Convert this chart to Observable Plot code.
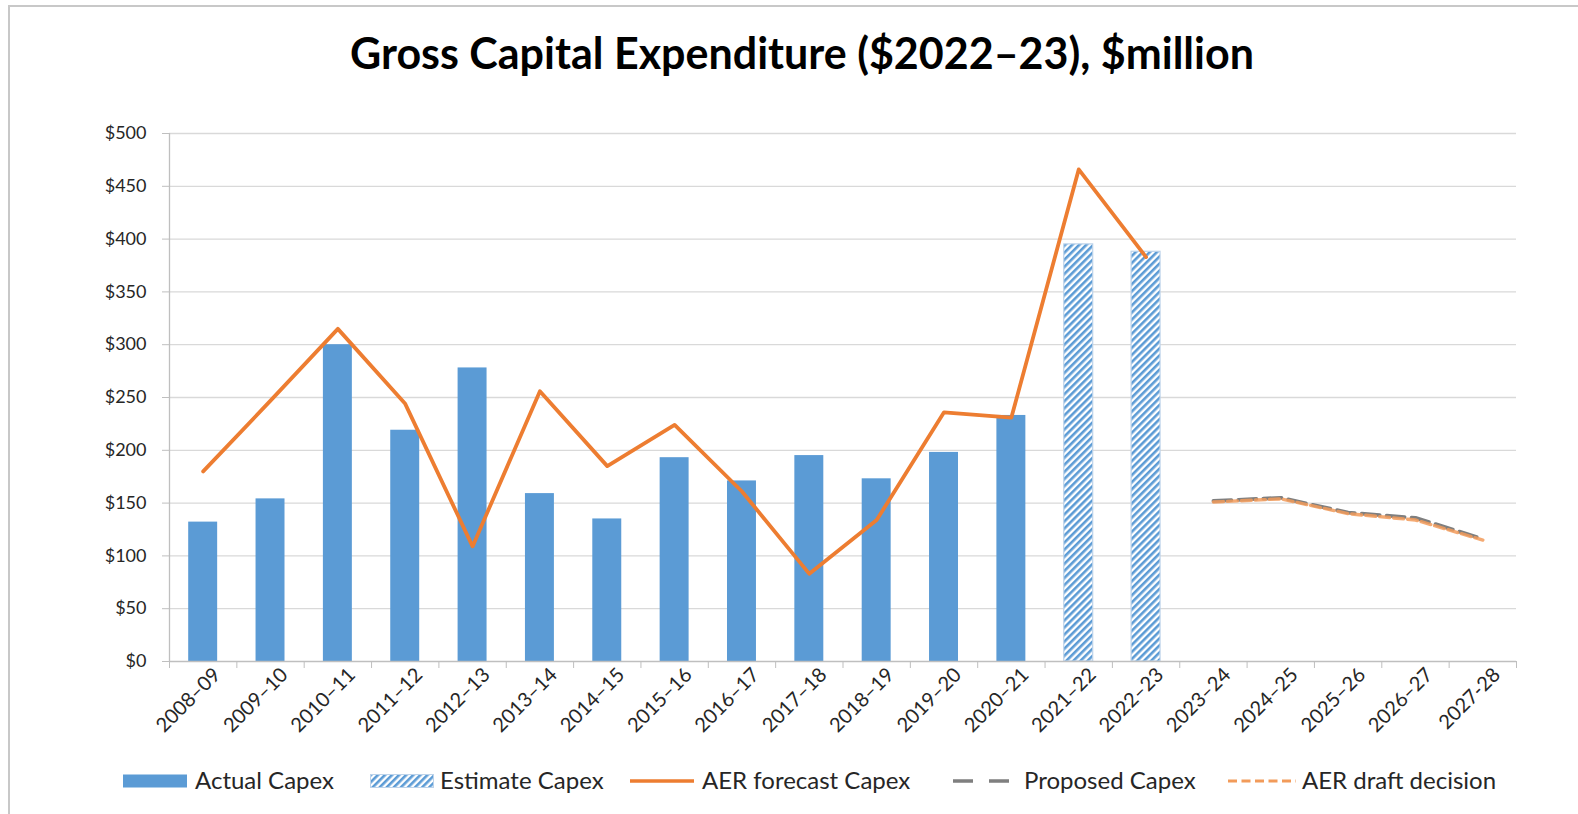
<!DOCTYPE html>
<html>
<head>
<meta charset="utf-8">
<script src="https://cdn.jsdelivr.net/npm/d3@7"></script>
<script src="https://cdn.jsdelivr.net/npm/@observablehq/plot@0.6"></script>
<style>
  html, body { margin: 0; padding: 0; background: #fff; width: 1578px; height: 814px; overflow: hidden; font-family: Lato, "Open Sans", sans-serif; }
  #frame { position: absolute; left: 8px; top: 5px; width: 1700px; height: 900px; border-left: 2px solid #c8c8c8; border-top: 2px solid #c8c8c8; }
  #title { position: absolute; left: 0; top: 30px; width: 1604px; text-align: center; font-weight: 700; font-size: 43px; line-height: 46px; color: #000; white-space: nowrap; }
  #chart { position: absolute; left: 0; top: 0; }
  .sw { position: absolute; top: 774px; }
  .lt { position: absolute; top: 766px; height: 28px; line-height: 28px; font-size: 24px; color: #262626; white-space: nowrap; }
</style>
</head>
<body>
<div id="frame"></div>
<div id="title">Gross Capital Expenditure ($2022–23), $million</div>
<div id="chart"></div>
<div id="legend"></div>
<script>
// ---- data ----
const categories = ["2008–09","2009–10","2010–11","2011–12","2012–13","2013–14","2014–15","2015–16","2016–17","2017–18","2018–19","2019–20","2020–21","2021–22","2022–23","2023–24","2024–25","2025–26","2026–27","2027-28"];

const actualCategories = ["2008–09","2009–10","2010–11","2011–12","2012–13","2013–14","2014–15","2015–16","2016–17","2017–18","2018–19","2019–20","2020–21"];
const actualCapex = [132, 154, 300, 219, 278, 159, 135, 193, 171, 195, 173, 198, 233];

const estimateCategories = ["2021–22","2022–23"];
const estimateCapex = [395, 388];

const forecastCategories = ["2008–09","2009–10","2010–11","2011–12","2012–13","2013–14","2014–15","2015–16","2016–17","2017–18","2018–19","2019–20","2020–21","2021–22","2022–23"];
const aerForecastCapex = [180, 247, 315, 244, 109, 256, 185, 224, 161, 83, 134, 236, 231, 466, 383];

const futureCategories = ["2023–24","2024–25","2025–26","2026–27","2027-28"];
const proposedCapex = [152, 155, 141, 136, 116];
const aerDraftDecision = [151, 154, 140, 134, 115];

const yTicks = [0, 50, 100, 150, 200, 250, 300, 350, 400, 450, 500];

// ---- build tables ----
const pos = c => categories.indexOf(c) + 0.5;
const zip = (cats, vals) => cats.map((c, i) => ({c, x: pos(c), v: vals[i]}));
const actual = zip(actualCategories, actualCapex);
const estimate = zip(estimateCategories, estimateCapex);
const forecast = zip(forecastCategories, aerForecastCapex);
const proposed = zip(futureCategories, proposedCapex);
const draft = zip(futureCategories, aerDraftDecision);

const blue = "#5B9BD5", orange = "#ED7D31", gray = "#7F7F7F", lightOrange = "#F29B5A";
const hw = 0.215;
const tickCenters = categories.map((c, i) => i + 0.5);
const boundaries = d3.range(0, categories.length + 1);

const svg = Plot.plot({
  width: 1578,
  height: 745,
  marginLeft: 169,
  marginRight: 62,
  marginTop: 133,
  marginBottom: 84,
  style: {background: "transparent", color: "#262626", fontFamily: "Lato, 'Open Sans', sans-serif"},
  x: {type: "linear", domain: [0, categories.length], axis: null, label: null},
  y: {domain: [0, 500], axis: null, label: null},
  marks: [
    Plot.ruleY(yTicks.filter(d => d > 0), {y: d => d, stroke: "#d9d9d9", strokeWidth: 1.3}),
    Plot.rect(actual, {x1: d => d.x - hw, x2: d => d.x + hw, y1: 0, y2: "v", fill: blue}),
    Plot.rect(estimate, {x1: d => d.x - hw, x2: d => d.x + hw, y1: 0, y2: "v", fill: "url(#hatch)", stroke: "#bdd3ea", strokeWidth: 1.2}),
    Plot.ruleY([0], {stroke: "#bfbfbf", strokeWidth: 1.3}),
    Plot.ruleX([0], {stroke: "#bfbfbf", strokeWidth: 1.3}),
    Plot.axisY(yTicks, {label: null, tickFormat: d => "$" + d, tickSize: 7, tickPadding: 16, stroke: "#bfbfbf", fill: "#262626", fontSize: 18}),
    Plot.axisX(boundaries, {label: null, tickSize: 7, tickFormat: () => "", stroke: "#bfbfbf"}),
    Plot.axisX(tickCenters, {label: null, tickSize: 0, tickPadding: 10, tickRotate: -45, dx: 14, tickFormat: (d, i) => categories[i], fill: "#262626", fontSize: 20}),
    Plot.line(forecast, {x: "x", y: "v", stroke: orange, strokeWidth: 3.8, strokeLinejoin: "round"}),
    Plot.line(proposed, {x: "x", y: "v", stroke: gray, strokeWidth: 3.8, strokeDasharray: "18 7"}),
    Plot.line(draft, {x: "x", y: "v", stroke: lightOrange, strokeWidth: 3.4, strokeDasharray: "10 4", strokeOpacity: 0.85})
  ]
});

// hatch pattern
const defs = d3.select(svg).insert("defs", ":first-child");
const pat = defs.append("pattern").attr("id", "hatch").attr("patternUnits", "userSpaceOnUse")
  .attr("width", 5).attr("height", 5).attr("patternTransform", "rotate(45)");
pat.append("rect").attr("width", 5).attr("height", 5).attr("fill", "#fff");
pat.append("rect").attr("width", 2.6).attr("height", 5).attr("fill", blue);

document.getElementById("chart").appendChild(svg);

// legend
const legendItems = [
  {label: "Actual Capex", sw: 123, tx: 195, kind: "bar"},
  {label: "Estimate Capex", sw: 370, tx: 440, kind: "hatch"},
  {label: "AER forecast Capex", sw: 630, tx: 702, kind: "line"},
  {label: "Proposed Capex", sw: 949, tx: 1024, kind: "gray"},
  {label: "AER draft decision", sw: 1228, tx: 1302, kind: "dash"}
];
const leg = document.getElementById("legend");
for (const it of legendItems) {
  const w = it.kind === "dash" ? 68 : 64;
  let inner = "";
  if (it.kind === "bar") inner = `<rect x="0" y="0.5" width="${w}" height="13" fill="${blue}"/>`;
  if (it.kind === "hatch") inner = `<defs><pattern id="hatchL" patternUnits="userSpaceOnUse" width="5" height="5" patternTransform="rotate(45)"><rect width="5" height="5" fill="#fff"/><rect width="2.6" height="5" fill="${blue}"/></pattern></defs><rect x="0.5" y="0.5" width="${w-1}" height="13" fill="url(#hatchL)" stroke="#bdd3ea"/>`;
  if (it.kind === "line") inner = `<line x1="0" x2="${w}" y1="7" y2="7" stroke="${orange}" stroke-width="3.5"/>`;
  if (it.kind === "gray") inner = `<line x1="4" x2="${w}" y1="7" y2="7" stroke="${gray}" stroke-width="3.5" stroke-dasharray="20 16"/>`;
  if (it.kind === "dash") inner = `<line x1="0" x2="${w}" y1="7" y2="7" stroke="${lightOrange}" stroke-width="3" stroke-dasharray="9 4.5"/>`;
  const s = document.createElement("div");
  s.className = "sw";
  s.style.left = it.sw + "px";
  s.innerHTML = `<svg width="${w}" height="14" style="display:block">${inner}</svg>`;
  leg.appendChild(s);
  const t = document.createElement("div");
  t.className = "lt";
  t.style.left = it.tx + "px";
  t.textContent = it.label;
  leg.appendChild(t);
}
</script>
</body>
</html>
